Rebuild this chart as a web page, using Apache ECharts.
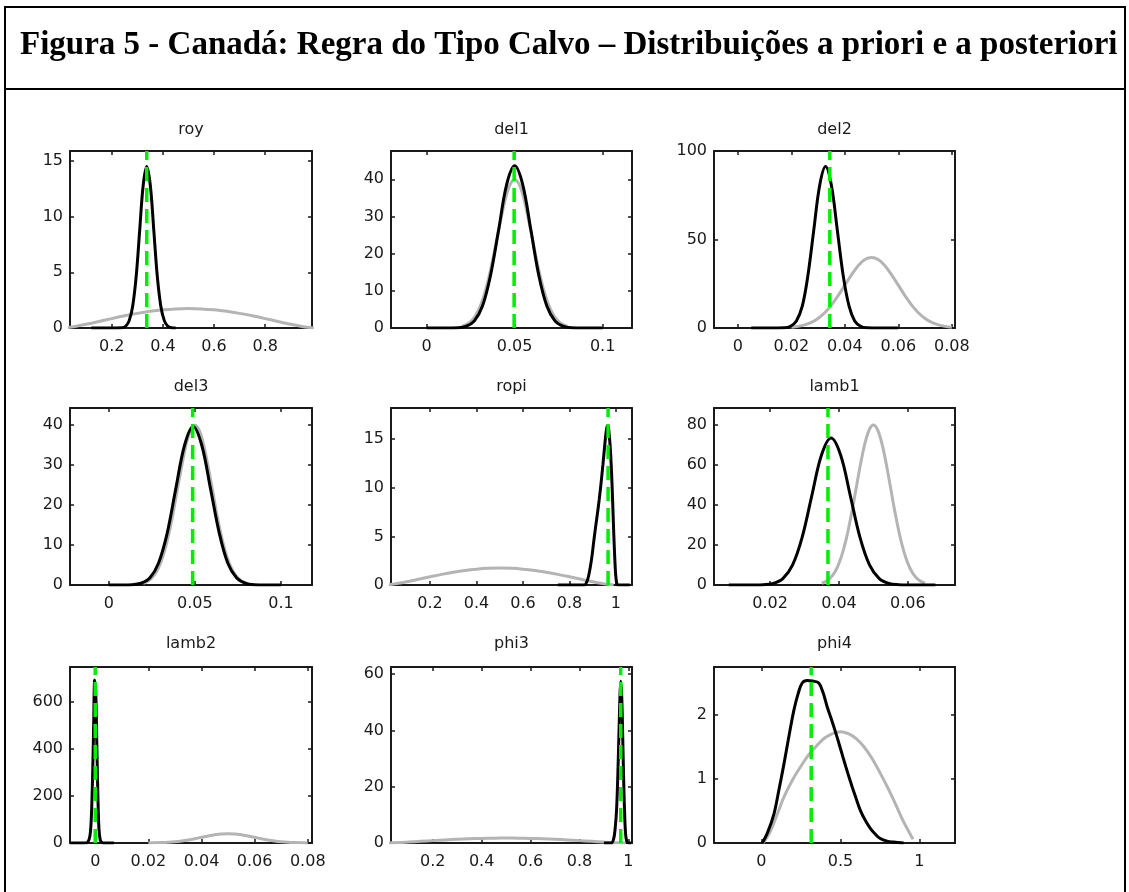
<!DOCTYPE html>
<html>
<head>
<meta charset="utf-8">
<title>Figura 5 - Canadá</title>
<script src="https://cdn.jsdelivr.net/npm/echarts@6/dist/echarts.min.js"></script>
<style>
  html, body { margin: 0; padding: 0; background: #fff; }
  #chart { width: 1129px; height: 892px; }
</style>
</head>
<body>
<div id="chart"></div>
<script>
// panel names, row by row
const paramNames = ['roy', 'del1', 'del2', 'del3', 'ropi', 'lamb1', 'lamb2', 'phi3', 'phi4'];

// axis limits
const xMin = [0.037, -0.0203, -0.0089, -0.0225, 0.032, 0.0037, -0.0095, 0.0295, -0.30];
const xMax = [0.983, 0.1167, 0.0812, 0.118, 1.069, 0.0737, 0.0816, 1.015, 1.225];
const yMax = [15.9, 47.6, 100, 44.2, 18.2, 88.3, 750, 62.5, 2.75];

// tick labels
const xTicks = [
  [0.2, 0.4, 0.6, 0.8],
  [0, 0.05, 0.1],
  [0, 0.02, 0.04, 0.06, 0.08],
  [0, 0.05, 0.1],
  [0.2, 0.4, 0.6, 0.8, 1],
  [0.02, 0.04, 0.06],
  [0, 0.02, 0.04, 0.06, 0.08],
  [0.2, 0.4, 0.6, 0.8, 1],
  [0, 0.5, 1]
];
const yTicks = [
  [0, 5, 10, 15],
  [0, 10, 20, 30, 40],
  [0, 50, 100],
  [0, 10, 20, 30, 40],
  [0, 5, 10, 15],
  [0, 20, 40, 60, 80],
  [0, 200, 400, 600],
  [0, 20, 40, 60],
  [0, 1, 2]
];

// posterior mode (green dashed line)
const modes = [0.337, 0.0497, 0.0344, 0.0487, 0.966, 0.0368, 0.0, 0.969, 0.315];

// prior densities (grey)
const priorBeta = [
  [0.01, 0.009], [0.037, 0.074], [0.05, 0.117], [0.1, 0.331], [0.15, 0.583], [0.2, 0.844],
  [0.25, 1.092], [0.3, 1.312], [0.35, 1.496], [0.4, 1.631], [0.45, 1.715], [0.5, 1.743],
  [0.55, 1.715], [0.6, 1.631], [0.65, 1.496], [0.7, 1.312], [0.75, 1.092], [0.8, 0.844],
  [0.85, 0.583], [0.9, 0.331], [0.95, 0.117], [0.963, 0.074], [0.99, 0.009]
];
const priorNormal = [
  [0.02, 0.44], [0.0225, 0.91], [0.025, 1.75], [0.0275, 3.17], [0.03, 5.4], [0.0325, 8.63],
  [0.035, 12.95], [0.0375, 18.25], [0.04, 24.2], [0.0425, 30.0], [0.045, 35.2], [0.0475, 38.7],
  [0.05, 39.9], [0.0525, 38.7], [0.055, 35.2], [0.0575, 30.0], [0.06, 24.2], [0.0625, 18.25],
  [0.065, 12.95], [0.0675, 8.63], [0.07, 5.4], [0.0725, 3.17], [0.075, 1.75], [0.0775, 0.91],
  [0.08, 0.44]
];
const priorLamb1 = [
  [0.035, 0.88], [0.03625, 1.82], [0.0375, 3.5], [0.03875, 6.34], [0.04, 10.8], [0.04125, 17.26],
  [0.0425, 25.9], [0.04375, 36.5], [0.045, 48.4], [0.04625, 60.2], [0.0475, 70.4], [0.04875, 77.3],
  [0.05, 79.8], [0.05125, 77.3], [0.0525, 70.4], [0.05375, 60.2], [0.055, 48.4], [0.05625, 36.5],
  [0.0575, 25.9], [0.05875, 17.26], [0.06, 10.8], [0.06125, 6.34], [0.0625, 3.5], [0.06375, 1.82],
  [0.065, 0.88]
];
const priorPhi4 = [
  [0.01, 0], [0.05, 0.15], [0.1, 0.45], [0.143, 0.72], [0.2, 1.0], [0.25, 1.2], [0.3, 1.38],
  [0.35, 1.52], [0.4, 1.64], [0.45, 1.71], [0.5, 1.74], [0.55, 1.71], [0.6, 1.63], [0.65, 1.5],
  [0.7, 1.32], [0.75, 1.1], [0.8, 0.86], [0.85, 0.6], [0.9, 0.33], [0.95, 0.1], [0.96, 0.06]
];

// posterior densities (black)
const postRoy = [
  [0.12, 0], [0.2408, 0.03], [0.2545, 0.16], [0.268, 0.64], [0.282, 1.96], [0.296, 4.7],
  [0.3095, 8.8], [0.323, 12.8], [0.337, 14.5], [0.351, 12.8], [0.3645, 8.8], [0.378, 4.7],
  [0.392, 1.96], [0.406, 0.64], [0.4195, 0.16], [0.433, 0.03], [0.45, 0]
];
const postDel1 = [
  [0.0, 0], [0.018, 0.1], [0.0226, 0.48], [0.0271, 1.91], [0.0317, 5.9], [0.0363, 14.2],
  [0.0409, 26.4], [0.0454, 38.5], [0.05, 43.6], [0.0546, 38.5], [0.0592, 26.4], [0.0637, 14.2],
  [0.0683, 5.9], [0.0729, 1.91], [0.0775, 0.48], [0.082, 0.1], [0.1, 0]
];
const postDel2 = [
  [0.005, 0], [0.0175, 0.2], [0.0197, 1.01], [0.0219, 4.0], [0.0241, 12.3], [0.0262, 29.6],
  [0.0284, 55.3], [0.0306, 80.5], [0.0328, 91.2], [0.035, 80.5], [0.0372, 55.3], [0.0394, 29.6],
  [0.0416, 12.3], [0.0437, 4.0], [0.0459, 1.01], [0.0481, 0.2], [0.06, 0]
];
const postDel3 = [
  [0.0, 0], [0.0137, 0.09], [0.0187, 0.44], [0.0238, 1.74], [0.0288, 5.36], [0.0339, 12.9],
  [0.0389, 24.0], [0.044, 34.9], [0.049, 39.6], [0.054, 34.9], [0.0591, 24.0], [0.0642, 12.9],
  [0.0692, 5.36], [0.0743, 1.74], [0.0793, 0.44], [0.0844, 0.09], [0.1, 0]
];
const postRopi = [
  [0.75, 0], [0.865, 0], [0.874, 0.3], [0.882, 0.9], [0.89, 1.9], [0.897, 3.0], [0.904, 4.4],
  [0.912, 5.9], [0.92, 7.3], [0.928, 8.8], [0.936, 10.5], [0.944, 12.4], [0.951, 14.2],
  [0.957, 15.6], [0.962, 16.3], [0.966, 16.4], [0.97, 15.7], [0.975, 14.3], [0.979, 12.6],
  [0.983, 10.4], [0.987, 7.7], [0.991, 5.0], [0.995, 2.7], [0.999, 1.0], [1.004, 0.1],
  [1.008, 0], [1.06, 0]
];
const postLamb1 = [
  [0.008, 0], [0.0153, 0.02], [0.0181, 0.16], [0.0209, 0.81], [0.0237, 3.22], [0.0265, 9.92],
  [0.0293, 23.8], [0.0321, 44.5], [0.0349, 64.7], [0.0377, 73.3], [0.0405, 64.7], [0.0433, 44.5],
  [0.0461, 23.8], [0.0489, 9.92], [0.0517, 3.22], [0.0545, 0.81], [0.0573, 0.16], [0.0601, 0.02],
  [0.068, 0]
];
const postLamb2 = [
  [-0.0095, 0], [-0.004, 0], [-0.0028, 4], [-0.002, 30], [-0.0015, 100], [-0.001, 280],
  [-0.0006, 500], [-0.0002, 695], [0.0002, 640], [0.0006, 420], [0.001, 200], [0.0014, 60],
  [0.0019, 12], [0.0025, 2], [0.003, 0], [0.007, 0]
];
const postPhi3 = [
  [0.9, 0], [0.93, 0], [0.94, 1.5], [0.946, 5], [0.952, 12], [0.957, 24], [0.962, 40],
  [0.966, 53], [0.969, 57.4], [0.973, 52], [0.977, 38], [0.981, 22], [0.985, 10], [0.989, 3],
  [0.994, 0.5], [1.0, 0], [1.012, 0]
];
const postPhi4 = [
  [0.006, 0], [0.04, 0.17], [0.08, 0.46], [0.11, 0.82], [0.143, 1.24], [0.175, 1.68],
  [0.206, 2.08], [0.232, 2.33], [0.258, 2.5], [0.29, 2.54], [0.325, 2.53], [0.363, 2.5],
  [0.39, 2.35], [0.416, 2.13], [0.442, 1.94], [0.468, 1.74], [0.495, 1.52], [0.521, 1.3],
  [0.548, 1.08], [0.574, 0.88], [0.6, 0.69], [0.626, 0.51], [0.658, 0.35], [0.689, 0.23],
  [0.72, 0.14], [0.752, 0.07], [0.795, 0.03], [0.836, 0.015], [0.9, 0]
];

const priors = [priorBeta, priorNormal, priorNormal, priorNormal, priorBeta, priorLamb1, priorNormal, priorBeta, priorPhi4];
const posts = [postRoy, postDel1, postDel2, postDel3, postRopi, postLamb1, postLamb2, postPhi3, postPhi4];

// layout of the 3x3 panel grid
const colLeft = [70, 391, 714];
const colWidth = [242, 241, 241];
const rowTop = [151, 408, 667];
const rowHeight = [177, 177, 176];
const titleY = [130, 387, 644];

const ink = '#1a1a1a';
const labelFont = 'DejaVu Sans';

const chart = echarts.init(document.getElementById('chart'), null, { renderer: 'canvas' });

const grids = [], xAxes = [], yAxes = [], series = [];
const graphics = [
  {
    type: 'rect',
    shape: { x: 5, y: 7, width: 1120, height: 950 },
    style: { fill: 'none', stroke: '#000', lineWidth: 2 },
    silent: true
  },
  {
    type: 'line',
    shape: { x1: 5, y1: 89, x2: 1125, y2: 89 },
    style: { stroke: '#000', lineWidth: 2 },
    silent: true
  },
  {
    type: 'text',
    x: 20,
    y: 45,
    style: {
      text: 'Figura 5 - Canadá: Regra do Tipo Calvo – Distribuições a priori e a posteriori',
      font: 'bold 33px "Liberation Serif"',
      fill: '#000',
      align: 'left',
      verticalAlign: 'middle'
    },
    silent: true
  }
];

function tick(values) {
  return { show: true, inside: true, length: 4, customValues: values, lineStyle: { color: ink, width: 1.5 } };
}
const axisLine = { show: true, onZero: false, lineStyle: { color: ink, width: 2 } };

paramNames.forEach((name, i) => {
  const r = Math.floor(i / 3);
  const c = i % 3;
  grids.push({ left: colLeft[c], top: rowTop[r], width: colWidth[c], height: rowHeight[r], containLabel: false });

  graphics.push({
    type: 'text',
    x: colLeft[c] + colWidth[c] / 2,
    y: titleY[r],
    style: { text: name, font: '16px "DejaVu Sans"', fill: ink, align: 'center', verticalAlign: 'middle' },
    silent: true
  });

  xAxes.push({
    type: 'value', gridIndex: i, position: 'bottom', min: xMin[i], max: xMax[i],
    axisLine: axisLine,
    axisTick: tick(xTicks[i]),
    axisLabel: {
      show: true, customValues: xTicks[i], margin: 11, color: ink,
      fontFamily: labelFont, fontSize: 16, hideOverlap: false,
      formatter: v => String(v)
    },
    splitLine: { show: false }
  });
  xAxes.push({
    type: 'value', gridIndex: i, position: 'top', min: xMin[i], max: xMax[i],
    axisLine: axisLine,
    axisTick: tick(xTicks[i]),
    axisLabel: { show: false },
    splitLine: { show: false }
  });
  yAxes.push({
    type: 'value', gridIndex: i, position: 'left', min: 0, max: yMax[i],
    axisLine: axisLine,
    axisTick: tick(yTicks[i]),
    axisLabel: {
      show: true, customValues: yTicks[i], margin: 7, color: ink,
      fontFamily: labelFont, fontSize: 16, hideOverlap: false,
      formatter: v => String(v)
    },
    splitLine: { show: false }
  });
  yAxes.push({
    type: 'value', gridIndex: i, position: 'right', min: 0, max: yMax[i],
    axisLine: axisLine,
    axisTick: tick(yTicks[i]),
    axisLabel: { show: false },
    splitLine: { show: false }
  });

  const xi = 2 * i, yi = 2 * i;
  series.push({
    name: name + ' prior', type: 'line', xAxisIndex: xi, yAxisIndex: yi,
    data: priors[i], symbol: 'none', smooth: 0.35,
    lineStyle: { color: '#b4b4b4', width: 3 }, z: 2, silent: true
  });
  series.push({
    name: name + ' posterior', type: 'line', xAxisIndex: xi, yAxisIndex: yi,
    data: posts[i], symbol: 'none', smooth: 0.35,
    lineStyle: { color: '#000', width: 3 }, z: 3, silent: true
  });
  series.push({
    name: name + ' mode', type: 'line', xAxisIndex: xi, yAxisIndex: yi,
    data: [[modes[i], 0], [modes[i], yMax[i]]], symbol: 'none',
    lineStyle: { color: '#00ee00', width: 3.5, type: [14, 7] }, z: 4, silent: true
  });
});

chart.setOption({
  animation: false,
  backgroundColor: '#fff',
  grid: grids,
  xAxis: xAxes,
  yAxis: yAxes,
  series: series,
  graphic: graphics
});
</script>
</body>
</html>
